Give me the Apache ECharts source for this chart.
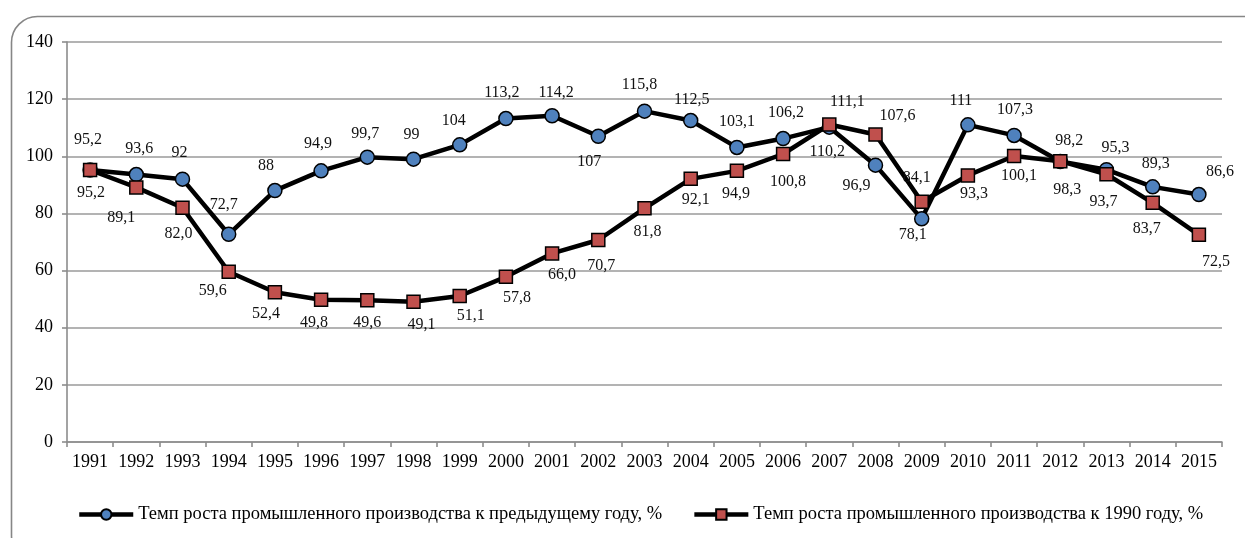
<!DOCTYPE html>
<html>
<head>
<meta charset="utf-8">
<script src="https://cdn.jsdelivr.net/npm/echarts@6/dist/echarts.min.js"></script>
<style>
html,body{margin:0;padding:0;background:#fff;}
#c{width:1245px;height:538px;}
</style>
</head>
<body>
<div id="c"></div>
<script>
const years = ['1991','1992','1993','1994','1995','1996','1997','1998','1999','2000','2001','2002','2003','2004','2005','2006','2007','2008','2009','2010','2011','2012','2013','2014','2015'];
const prevYear = [95.2,93.6,92,72.7,88,94.9,99.7,99,104,113.2,114.2,107,115.8,112.5,103.1,106.2,110.2,96.9,78.1,111,107.3,98.2,95.3,89.3,86.6];
const to1990 = [95.2,89.1,82.0,59.6,52.4,49.8,49.6,49.1,51.1,57.8,66.0,70.7,81.8,92.1,94.9,100.8,111.1,107.6,84.1,93.3,100.1,98.3,93.7,83.7,72.5];
const yTicks = [0,20,40,60,80,100,120,140];
const seriesNames = ['Темп роста промышленного производства к предыдущему году, %','Темп роста промышленного производства к 1990 году, %'];

// label offsets (styling) relative to the marker centre
const prevOffsets = [[-2,-30],[3,-26],[-3,-26],[-5,-29],[-9,-25],[-3,-27],[-2,-23],[-2,-24],[-6,-24],[-4,-26],[4,-23],[-9,26],[-5,-26],[1,-21],[0,-26],[3,-26],[-2,25],[-19,21],[-9,16],[-7,-24],[1,-26],[9,-21],[9,-22],[3,-23],[21,-23]];
const baseOffsets = [[1,23],[-15,30],[-4,26],[-16,19],[-9,22],[-7,23],[0,23],[8,23],[11,20],[11,21],[10,21],[3,26],[3,24],[5,21],[-1,23],[5,28],[18,-23],[22,-19],[-5,-24],[6,18],[5,20],[7,29],[-3,28],[-6,26],[17,27]];

const FONT = "'Liberation Serif','Times New Roman',serif";

function fmt(v, fixed){
  return (fixed ? v.toFixed(1) : String(v)).replace('.', ',');
}
function buildData(vals, offs, fixed){
  return vals.map((v,i)=>({
    value: v,
    label: {show:true, position:'inside', offset: offs[i], formatter: fmt(v, fixed)}
  }));
}

const chart = echarts.init(document.getElementById('c'), null, {renderer:'canvas'});
chart.setOption({
  animation:false,
  backgroundColor:'#fff',
  graphic:[{
    type:'rect', left:9, top:14, z:-10,
    shape:{width:1265, height:545, r:26},
    style:{fill:'none', stroke:'#868686', lineWidth:1.6}
  }],
  grid:{left:67, right:23, top:42, bottom:96, containLabel:false},
  legend:{
    left:72, top:500,
    itemWidth:54, itemHeight:13, itemGap:30,
    lineStyle:{width:4.5, color:'#000'},
    textStyle:{fontFamily:FONT, fontSize:18.5, color:'#000'},
    data:seriesNames
  },
  xAxis:{
    type:'category', data:years, boundaryGap:true,
    axisLine:{lineStyle:{color:'#8c8c8c', width:1.6}},
    axisTick:{show:true, length:5, lineStyle:{color:'#8c8c8c', width:1.6}},
    axisLabel:{fontFamily:FONT, fontSize:18, color:'#000', margin:11, interval:0}
  },
  yAxis:{
    type:'value', min:yTicks[0], max:yTicks[yTicks.length-1], interval:yTicks[1]-yTicks[0],
    axisLine:{show:true, lineStyle:{color:'#8c8c8c', width:1.6}},
    axisTick:{show:true, length:5, lineStyle:{color:'#8c8c8c', width:1.6}},
    splitLine:{lineStyle:{color:'#9a9a9a', width:1.6}},
    axisLabel:{fontFamily:FONT, fontSize:18, color:'#000', margin:14}
  },
  series:[
    {
      name:seriesNames[0], type:'line',
      data: buildData(prevYear, prevOffsets, false),
      symbol:'circle', symbolSize:14,
      lineStyle:{color:'#000', width:4.5},
      itemStyle:{color:'#4F81BD', borderColor:'#000', borderWidth:1.5},
      label:{fontFamily:FONT, fontSize:16, color:'#111'},
      z:3
    },
    {
      name:seriesNames[1], type:'line',
      data: buildData(to1990, baseOffsets, true),
      symbol:'rect', symbolSize:13,
      lineStyle:{color:'#000', width:4.5},
      itemStyle:{color:'#C0504D', borderColor:'#000', borderWidth:1.5},
      label:{fontFamily:FONT, fontSize:16, color:'#111'},
      z:4
    }
  ]
});
</script>
</body>
</html>
